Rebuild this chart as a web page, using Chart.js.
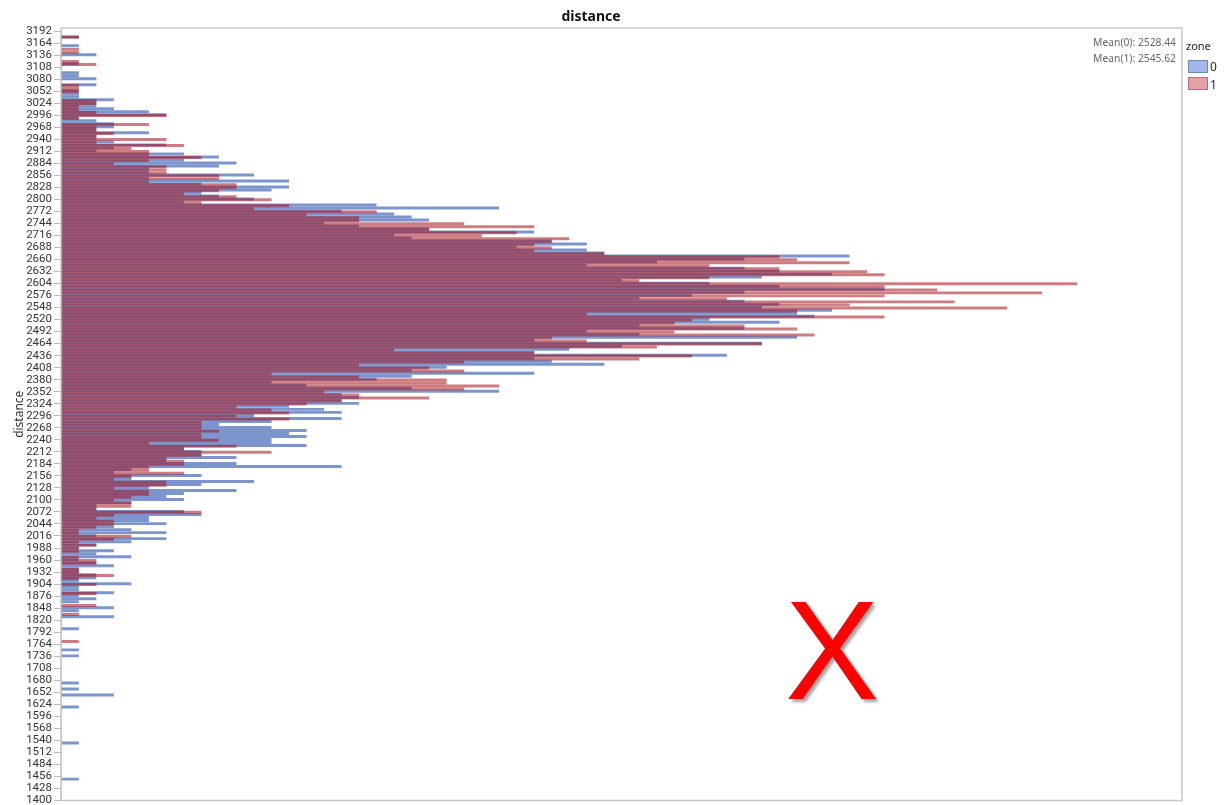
<!DOCTYPE html>
<html>
<head>
  <title>distance</title>
  <script src="https://cdn.jsdelivr.net/npm/chart.js@4"></script>
  <style>
    body { margin: 0; background: #fff; overflow: hidden; }
    #wrap { position: relative; width: 1226px; height: 805px; }
    #myChart { filter: blur(0.4px); }
    .note { position: absolute; font: 10.3px "Noto Sans", sans-serif; color: #666; white-space: pre; right: 50px; }
    .zoneTitle { position: absolute; left: 1186px; top: 38px; font: 11px "Noto Sans", sans-serif; color: #222; }
    .swatch { position: absolute; left: 1188px; width: 20px; height: 13px; box-sizing: border-box; }
    .swatchText { position: absolute; left: 1210px; font: 12px "Noto Sans", sans-serif; color: #222; }
    #mark { position: absolute; left: 785px; top: 552px; font: 141px/1.4 "Liberation Sans", sans-serif; color: #ff0000; text-shadow: 3px 3px 3px rgba(0,0,0,.35); }
  </style>
</head>
<body>
  <div id="wrap">
    <canvas id="myChart" width="1226" height="805"></canvas>
    <div class="note" style="top:35px">Mean(0): 2528.44</div>
    <div class="note" style="top:51px">Mean(1): 2545.62</div>
    <div class="zoneTitle">zone</div>
    <div class="swatch" style="top:60px;background:#a3b7ea;border:1px solid #6f86bd"></div>
    <div class="swatchText" style="top:58px">0</div>
    <div class="swatch" style="top:77px;background:#e6a1a8;border:1px solid #b0727a"></div>
    <div class="swatchText" style="top:76px">1</div>
    <div id="mark">X</div>
  </div>
  <script>
    // histogram bins are 7 wide, first row is the top one
    var firstBin = 3188.5;
    var binWidth = 7;

    var tickValues = [
      1400,1428,1456,1484,1512,1540,1568,1596,1624,1652,1680,1708,1736,1764,1792,1820,
      1848,1876,1904,1932,1960,1988,2016,2044,2072,2100,2128,2156,2184,2212,2240,2268,
      2296,2324,2352,2380,2408,2436,2464,2492,2520,2548,2576,2604,2632,2660,2688,2716,
      2744,2772,2800,2828,2856,2884,2912,2940,2968,2996,3024,3052,3080,3108,3136,3164,3192
    ];

    var zone0 = [
      0,1,0,0,1,0,0,2,0,0,
      1,0,0,1,1,2,0,2,0,1,
      1,1,3,2,2,3,5,6,1,2,
      3,3,2,5,2,2,3,6,3,2,
      7,9,7,10,9,5,5,11,5,13,
      8,13,12,8,9,11,7,18,25,16,
      19,20,21,15,17,21,27,19,20,28,
      30,26,30,31,45,39,34,30,39,41,
      44,40,32,37,41,47,39,36,33,39,
      41,40,44,42,43,37,41,33,39,30,
      33,42,27,40,32,29,27,38,27,28,
      31,22,20,27,20,18,12,14,20,25,
      16,17,16,17,13,15,16,11,16,12,
      9,12,14,13,14,12,12,14,7,8,
      8,10,6,10,16,4,3,8,4,11,
      8,5,10,7,6,7,4,2,2,7,
      8,5,5,6,3,4,6,2,6,4,
      2,1,3,2,4,1,2,3,1,1,
      2,2,1,4,1,1,3,1,2,1,
      0,3,1,0,3,0,0,0,1,0,
      0,0,0,0,0,1,0,1,0,0,
      0,0,0,0,0,0,1,0,1,0,
      3,0,0,0,1,0,0,0,0,0,
      0,0,0,0,0,0,1,0,0,0,
      0,0,0,0,0,0,0,0,1,0,
      0,0,0,0,0,0
    ];

    var zone1 = [
      0,0,1,0,0,0,1,1,0,0,
      1,2,0,0,0,0,0,0,1,1,
      1,0,0,2,2,1,1,2,6,1,
      0,5,2,2,3,2,6,2,7,4,
      5,5,8,5,3,6,6,6,9,9,
      5,10,10,9,7,10,12,8,13,11,
      18,14,17,17,23,27,21,26,24,29,
      28,27,28,27,31,41,42,45,37,41,
      46,47,37,33,58,47,50,56,47,38,
      51,45,54,42,30,47,36,35,39,42,
      35,43,28,30,40,34,19,27,36,33,
      23,17,21,23,12,17,22,22,25,23,
      15,17,21,16,14,10,12,13,10,13,
      8,8,8,9,8,8,9,5,10,7,
      12,8,6,7,7,5,5,7,4,3,
      6,6,3,5,5,4,3,4,4,2,
      8,3,2,3,3,2,1,1,4,3,
      1,2,1,1,0,1,2,2,0,1,
      1,3,1,0,2,0,0,2,0,0,
      0,2,0,0,1,0,0,0,0,0,
      0,0,0,1,0,0,0,0,0,0,
      0,0,0,0,0,0,0,0,0,0,
      0,0,0,0,0,0,0,0,0,0,
      0,0,0,0,0,0,0,0,0,0,
      0,0,0,0,0,0,0,0,0,0,
      0,0,0,0,0,0
    ];

    function toPoints(values) {
      return values.map(function(v, i) {
        return { x: v, y: firstBin - binWidth * i };
      });
    }

    var framePlugin = {
      id: 'frame',
      afterDraw: function(chart) {
        var a = chart.chartArea, c = chart.ctx;
        c.save();
        c.strokeStyle = '#c8c8c8';
        c.lineWidth = 1.5;
        c.strokeRect(a.left, a.top, a.right - a.left, a.bottom - a.top);
        c.restore();
      }
    };

    var ctx = document.getElementById('myChart').getContext('2d');
    var myChart = new Chart(ctx, {
      type: 'bar',
      plugins: [framePlugin],
      data: {
        datasets: [
          { label: '0', data: toPoints(zone0), backgroundColor: 'rgba(69,105,184,0.7)', barThickness: 2.3, order: 2 },
          { label: '1', data: toPoints(zone1), backgroundColor: 'rgba(164,19,28,0.55)', barThickness: 2.3, order: 1 }
        ]
      },
      options: {
        indexAxis: 'y',
        responsive: false,
        animation: false,
        layout: { padding: { left: 0, right: 44, top: 0, bottom: 4.5 } },
        plugins: {
          legend: { display: false },
          tooltip: { enabled: false },
          title: {
            display: true,
            text: 'distance',
            color: '#111',
            font: { family: 'Noto Sans', size: 14, weight: 'bold' },
            padding: { top: 9, bottom: 2.2 }
          }
        },
        scales: {
          x: { type: 'linear', min: 0, max: 64, display: false, grid: { display: false } },
          y: {
            type: 'linear',
            min: 1400,
            max: 3199,
            offset: false,
            grid: { offset: false, drawOnChartArea: false, tickLength: 7, tickColor: '#bbb' },
            border: { display: false },
            title: { display: true, text: 'distance', color: '#333', font: { family: 'Noto Sans', size: 12 }, padding: { top: 12, bottom: 0 } },
            afterBuildTicks: function(scale) {
              scale.ticks = tickValues.map(function(v) { return { value: v }; });
            },
            afterFit: function(scale) {
              scale.width = 61;
              scale.paddingTop = 0;
              scale.paddingBottom = 0;
            },
            ticks: {
              stepSize: 28,
              autoSkip: false,
              padding: 2,
              color: '#333',
              font: { family: 'Roboto', size: 11.5 },
              callback: function(v) { return String(v); }
            }
          }
        }
      }
    });
  </script>
</body>
</html>
